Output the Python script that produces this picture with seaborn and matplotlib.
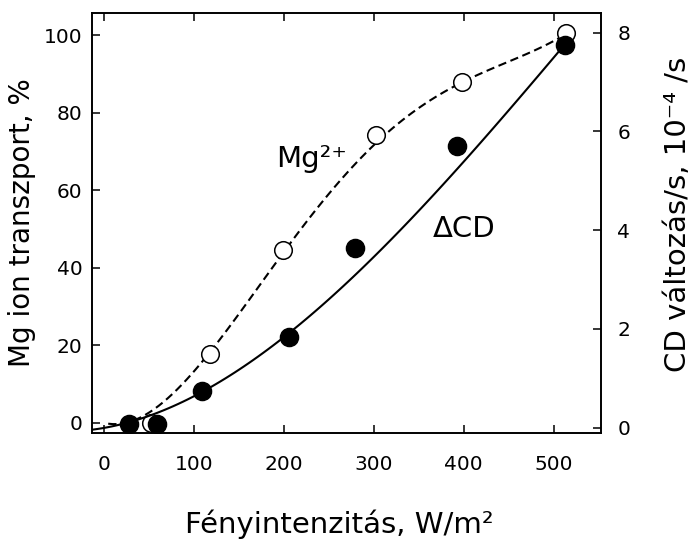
import numpy as np
import pandas as pd
import matplotlib
matplotlib.use("Agg")
import matplotlib.pyplot as plt
import seaborn as sns

mg_x = [52, 118, 199, 302, 398, 514]
mg_y = [0.0, 17.6, 44.7, 74.4, 88.0, 100.7]          # Mg ion transport, %
cd_x = [28, 59, 109, 206, 279, 393, 512]
cd_y = [0.07, 0.07, 0.75, 1.84, 3.63, 5.70, 7.75]    # CD change/s, 10^-4 /s

# Points read along the fitted curves drawn in the figure
mg_curve_x = [5, 35, 75, 118, 140, 199, 250, 305, 353, 402, 455, 511]
mg_curve_y = [-1.3, 2.2, 7.9, 17.1, 23.6, 44.4, 59.3, 73.6, 81.2, 87.5, 94.4, 99.9]
cd_curve_x = [-12, 27, 57, 109, 149, 206, 280, 307, 329, 362, 416, 470, 508]
cd_curve_y = [-0.05, 0.13, 0.28, 0.75, 1.08, 1.86, 3.13, 3.64, 4.07, 4.65, 5.59, 6.77, 7.75]

x_ticks = [0, 100, 200, 300, 400, 500]
left_ticks = [0, 20, 40, 60, 80, 100]
right_ticks = [0, 2, 4, 6, 8]

sns.set_theme(style="ticks")
plt.rcParams['font.family'] = ['DejaVu Sans']
plt.rcParams['text.color'] = 'black'
plt.rcParams['axes.labelcolor'] = 'black'

fig = plt.figure(figsize=(7.0, 5.43), dpi=100)
ax = fig.add_axes([92 / 700, 1 - 433 / 543, 508.5 / 700, 420 / 543])
ax2 = ax.twinx()

# fitted curves (polynomial regression through the curve points)
sns.regplot(x=mg_curve_x, y=mg_curve_y, order=4, ci=None, scatter=False, ax=ax,
            line_kws=dict(color="black", lw=1.5, linestyle=(0, (4.0, 2.2))))
sns.scatterplot(x=mg_x, y=mg_y, ax=ax, marker="o", s=160, facecolor="white",
                edgecolor="black", linewidth=1.1, zorder=3)

sns.regplot(x=cd_curve_x, y=cd_curve_y, order=3, ci=None, scatter=False, ax=ax2,
            line_kws=dict(color="black", lw=1.5))
sns.scatterplot(x=cd_x, y=cd_y, ax=ax2, marker="o", s=170, color="black",
                edgecolor="black", zorder=4)

ax.set_xlim(-13, 552)
ax.set_ylim(-2.7, 105.8)
ax2.set_ylim(-0.11, 8.395)

ax.set_xticks(x_ticks)
ax.set_yticks(left_ticks)
ax2.set_yticks(right_ticks)

for a in (ax, ax2):
    for s in a.spines.values():
        s.set_linewidth(1.2)
        s.set_color("black")

ax.tick_params(axis="x", direction="in", top=True, length=6, width=1.1,
               labelsize=14.5, pad=16, colors="black")
ax.tick_params(axis="y", direction="in", length=6, width=1.1, labelsize=14.5,
               pad=7, colors="black")
ax2.tick_params(axis="y", direction="in", length=6, width=1.1,
                labelsize=14.5, pad=12, colors="black")

ax.set_xlabel("Fényintenzitás, W/m²", fontsize=21, va="center", ha="center")
ax.xaxis.set_label_coords(0.486, -0.217)
ax.set_ylabel("Mg ion transzport, %", fontsize=20, va="center", ha="center")
ax.yaxis.set_label_coords(-0.138, 0.502)
ax2.set_ylabel("CD változás/s, 10⁻⁴ /s", fontsize=21, va="center", ha="center",
               rotation=90)
ax2.yaxis.set_label_coords(1.152, 0.52)

ax.text(231, 66.0, "Mg²⁺", fontsize=21, ha="center", va="baseline")
ax.text(400, 47.9, "ΔCD", fontsize=21, ha="center", va="baseline")

fig.savefig("out.png", dpi=100)
